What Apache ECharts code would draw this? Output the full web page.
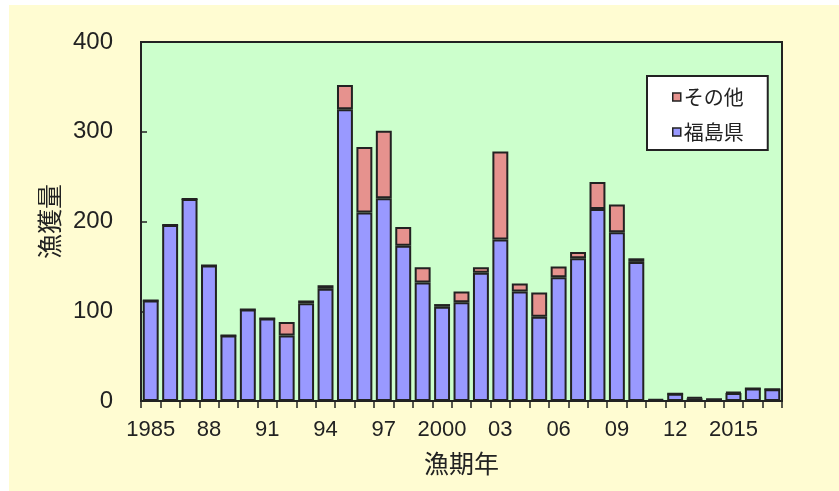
<!DOCTYPE html>
<html>
<head>
<meta charset="utf-8">
<script src="https://cdn.jsdelivr.net/npm/echarts@6/dist/echarts.min.js"></script>
<style>
html,body{margin:0;padding:0;background:#ffffff;}
#c{width:839px;height:491px;}
</style>
</head>
<body>
<div id="c"></div>
<script>
var years = ['1985','1986','1987','1988','1989','1990','1991','1992','1993','1994','1995','1996','1997','1998','1999','2000','2001','2002','2003','2004','2005','2006','2007','2008','2009','2010','2011','2012','2013','2014','2015','2016','2017'];
var tickLabels = ['1985','','','88','','','91','','','94','','','97','','','2000','','','03','','','06','','','09','','','12','','','2015','',''];
var fukushima = [112,196,225,151,73,102,92,73,109,125,325,210,226,173,132,105,110,143,180,122,94,138,159,214,188,155,1,8,3,2,9,14,13];
var others    = [0,0,0,0,0,0,0,15,3,4,27,73,75,21,17,3,12,6,98,9,27,12,7,30,31,4,1,0,1,0,1,0,0];
var yTicks = [0,100,200,300,400];

var chart = echarts.init(document.getElementById('c'), null, {renderer:'canvas'});
var font = '"Liberation Sans", Arial, "Noto Sans CJK JP", sans-serif';
var jfont = '"Noto Sans CJK JP", sans-serif';
var option = {
  animation: false,
  backgroundColor: '#FFFCD2',
  textStyle: {fontFamily: font, color: '#222'},
  graphic: [
    {type:'rect', left:0, top:0, shape:{width:9, height:491}, style:{fill:'#ffffff'}, silent:true},
    {type:'rect', left:0, top:0, shape:{width:839, height:5}, style:{fill:'#ffffff'}, silent:true}
  ],
  grid: {
    left: 141, right: 57, top: 42, bottom: 90,
    show: true, backgroundColor: '#CCFFCC', borderColor: '#222', borderWidth: 2,
    containLabel: false
  },
  legend: {
    orient: 'vertical',
    left: 647, top: 76,
    data: ['その他', '福島県'],
    backgroundColor: '#ffffff',
    borderColor: '#222', borderWidth: 2,
    padding: [11, 24, 8, 25],
    itemWidth: 8, itemHeight: 8, itemGap: 15,
    icon: 'rect',
    itemStyle: {borderColor: '#222', borderWidth: 1.5},
    textStyle: {fontFamily: jfont, fontSize: 20, color: '#222', padding: [0,0,0,-2]}
  },
  xAxis: {
    type: 'category',
    data: years,
    boundaryGap: true,
    name: '漁期年',
    nameLocation: 'middle',
    nameGap: 50,
    nameTextStyle: {fontFamily: jfont, fontSize: 25, color: '#222'},
    axisLine: {lineStyle: {color: '#222', width: 2}},
    axisTick: {show: true, inside: false, length: 7, interval: 0, lineStyle: {color: '#222', width: 1.5}},
    axisLabel: {
      interval: 2, margin: 18, fontSize: 22, color: '#222',
      formatter: function (v, i) { return tickLabels[i]; }
    },
    splitLine: {show: false}
  },
  yAxis: {
    type: 'value',
    min: yTicks[0], max: yTicks[yTicks.length-1], interval: 100,
    name: '漁獲量',
    nameLocation: 'middle',
    nameGap: 79,
    nameRotate: 90,
    nameTextStyle: {fontFamily: jfont, fontSize: 25, color: '#222'},
    axisLine: {show: true, lineStyle: {color: '#222', width: 2}},
    axisTick: {show: true, inside: true, length: 6, lineStyle: {color: '#222', width: 1.5}},
    axisLabel: {margin: 28, fontSize: 24, color: '#222'},
    splitLine: {show: false}
  },
  series: [
    {
      name: '福島県', type: 'bar', stack: 'total', data: fukushima,
      barCategoryGap: '18%',
      itemStyle: {color: '#9999FF', borderColor: '#222', borderWidth: 2}
    },
    {
      name: 'その他', type: 'bar', stack: 'total', data: others,
      barCategoryGap: '18%',
      itemStyle: {color: '#E6928E', borderColor: '#222', borderWidth: 2}
    }
  ]
};
chart.setOption(option);
</script>
</body>
</html>
